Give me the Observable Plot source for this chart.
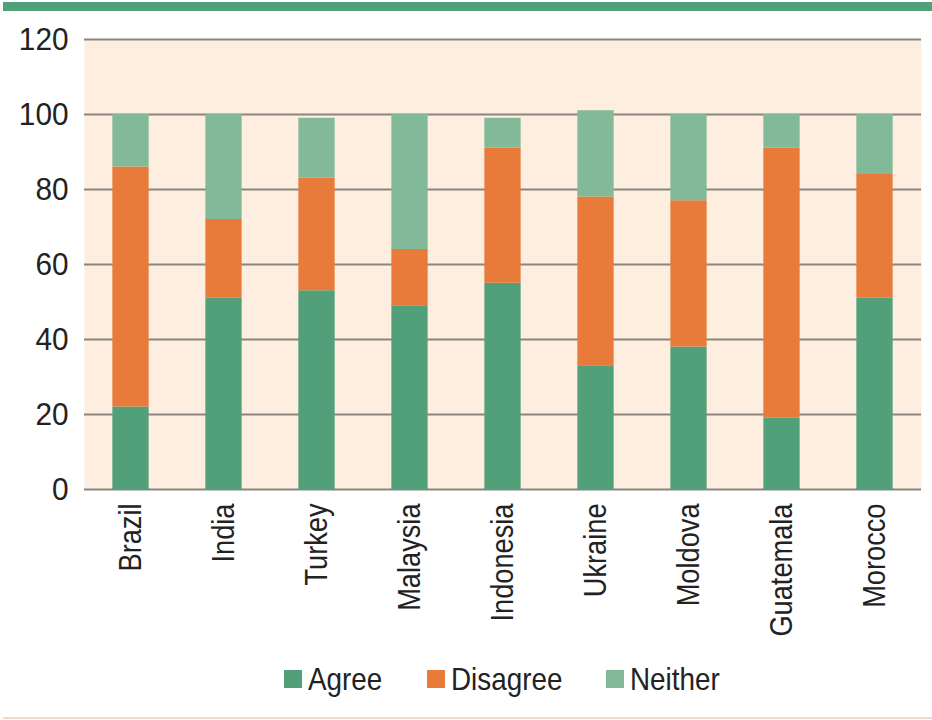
<!DOCTYPE html>
<html>
<head>
<meta charset="utf-8">
<script src="https://cdn.jsdelivr.net/npm/d3@7"></script>
<script src="https://cdn.jsdelivr.net/npm/@observablehq/plot@0.6"></script>
<style>
  html, body { margin: 0; padding: 0; background: #ffffff; }
  body { width: 932px; height: 720px; position: relative; overflow: hidden;
         font-family: "Liberation Sans", Arial, sans-serif; }
  #topbar { position: absolute; left: 3px; right: 0; top: 2px; height: 9px; background: #52a07a; }
  #chart { position: absolute; left: 0; top: 10px; }
  #legend { position: absolute; left: 84px; width: 836px; top: 650px; height: 58px;
            display: flex; justify-content: center; align-items: center; gap: 44px;
            font-size: 32px; color: #222; }
  .item { display: flex; align-items: center; }
  .sw { width: 18px; height: 18px; margin-right: 6px; flex: none; }
  .lt { display: inline-block; white-space: nowrap; transform-origin: left center; }
  #bottomline { position: absolute; left: 3px; right: 0; top: 717px; height: 2px; background: #f5d8c6; }
</style>
</head>
<body>
<div id="topbar"></div>
<div id="chart"></div>
<div id="legend"></div>
<div id="bottomline"></div>
<script>
const countries = ["Brazil", "India", "Turkey", "Malaysia", "Indonesia", "Ukraine", "Moldova", "Guatemala", "Morocco"];
const agree    = [22, 51, 53, 49, 55, 33, 38, 19, 51];
const disagree = [64, 21, 30, 15, 36, 45, 39, 72, 33];
const neither  = [14, 28, 16, 36,  8, 23, 23,  9, 16];
const series = ["Agree", "Disagree", "Neither"];
const colors = ["#52a07a", "#e87b3a", "#82b998"];
const yTicks = [0, 20, 40, 60, 80, 100, 120];

const seriesValues = [agree, disagree, neither];
const data = countries.flatMap((c, i) =>
  series.map((s, k) => ({country: c, response: s, value: seriesValues[k][i]}))
);

const fontFamily = '"Liberation Sans", Arial, sans-serif';

const chart = Plot.plot({
  width: 932,
  height: 640,
  marginTop: 29,
  marginBottom: 161,
  marginLeft: 84,
  marginRight: 11,
  style: {fontFamily, fontSize: "32px", background: "transparent", color: "#222"},
  x: {domain: countries, paddingInner: 0.61, paddingOuter: 0.305, round: false, label: null},
  y: {domain: [0, 120], label: null},
  color: {domain: series, range: colors},
  marks: [
    Plot.frame({fill: "#fdeedf", stroke: "none"}),
    Plot.ruleY(yTicks, {stroke: "#8a8580", strokeWidth: 2}),
    Plot.barY(data, Plot.stackY({x: "country", y: "value", fill: "response"})),
    Plot.axisY({ticks: yTicks, tickSize: 0, tickPadding: 16, fontSize: 32, label: null}),
    Plot.axisX({tickSize: 0, tickRotate: -90, tickPadding: 14, fontSize: 32, label: null})
  ]
});
document.getElementById("chart").appendChild(chart);

// Condense the tick labels to mimic a condensed typeface
function condense(selector, factor) {
  chart.querySelectorAll(selector).forEach(t => {
    const len = t.getComputedTextLength();
    t.setAttribute("textLength", (len * factor).toFixed(1));
    t.setAttribute("lengthAdjust", "spacingAndGlyphs");
  });
}
condense('g[aria-label="x-axis tick label"] text', 0.85);
condense('g[aria-label="y-axis tick label"] text', 0.93);

const legend = document.getElementById("legend");
series.forEach((s, k) => {
  const item = document.createElement("div");
  item.className = "item";
  const sw = document.createElement("span");
  sw.className = "sw";
  sw.style.background = colors[k];
  const wrap = document.createElement("span");
  wrap.style.display = "inline-block";
  const t = document.createElement("span");
  t.className = "lt";
  t.textContent = s;
  wrap.appendChild(t);
  item.appendChild(sw);
  item.appendChild(wrap);
  legend.appendChild(item);
});
legend.querySelectorAll(".lt").forEach(t => {
  const w = t.getBoundingClientRect().width;
  t.style.transform = "scaleX(0.87)";
  t.parentNode.style.width = (w * 0.87) + "px";
});
</script>
</body>
</html>
